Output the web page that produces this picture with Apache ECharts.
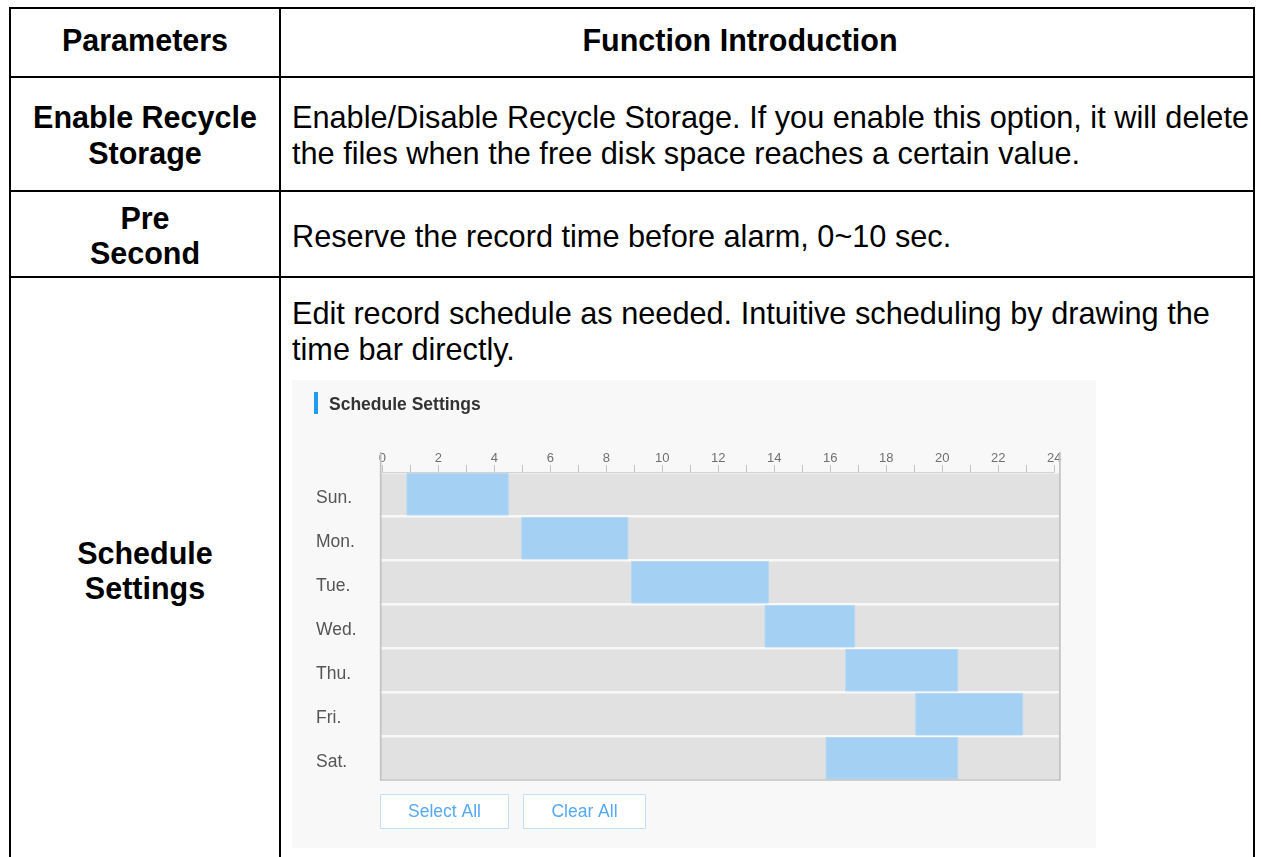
<!DOCTYPE html>
<html>
<head>
<meta charset="utf-8">
<script src="https://cdn.jsdelivr.net/npm/echarts@6/dist/echarts.min.js"></script>
<style>
  html, body { margin: 0; padding: 0; background: #fff; }
  #page { position: relative; width: 1261px; height: 857px; overflow: hidden; background: #fff; }
  .ln { position: absolute; background: #000; }
  .t { position: absolute; font-family: "Liberation Sans", Arial, sans-serif; font-size: 30.7px; line-height: 36px; color: #000; white-space: nowrap; }
  .b { font-weight: bold; font-size: 30.5px; }
  .c { text-align: center; }
  #chart { position: absolute; left: 292px; top: 380px; width: 804px; height: 468px; background: #f8f8f8; }
</style>
</head>
<body>
<div id="page">
  <!-- table rules -->
  <div class="ln" style="left:9px;top:7px;width:1246px;height:2px"></div>
  <div class="ln" style="left:9px;top:76px;width:1246px;height:2px"></div>
  <div class="ln" style="left:9px;top:190px;width:1246px;height:2px"></div>
  <div class="ln" style="left:9px;top:276px;width:1246px;height:2px"></div>
  <div class="ln" style="left:9px;top:7px;width:2px;height:860px"></div>
  <div class="ln" style="left:279px;top:7px;width:2px;height:860px"></div>
  <div class="ln" style="left:1253px;top:7px;width:2px;height:860px"></div>

  <!-- header -->
  <div class="t b c" style="left:11px;width:268px;top:22px">Parameters</div>
  <div class="t b c" style="left:440px;width:600px;top:22px">Function Introduction</div>

  <!-- left column -->
  <div class="t b c" style="left:11px;width:268px;top:99px">Enable Recycle</div>
  <div class="t b c" style="left:11px;width:268px;top:135px">Storage</div>
  <div class="t b c" style="left:11px;width:268px;top:200px">Pre</div>
  <div class="t b c" style="left:11px;width:268px;top:235px">Second</div>
  <div class="t b c" style="left:11px;width:268px;top:535px">Schedule</div>
  <div class="t b c" style="left:11px;width:268px;top:570px">Settings</div>

  <!-- right column -->
  <div class="t" style="left:292px;top:100px">Enable/Disable Recycle Storage. If you enable this option, it will delete</div>
  <div class="t" style="left:292px;top:136px">the files when the free disk space reaches a certain value.</div>
  <div class="t" style="left:292px;top:219px">Reserve the record time before alarm, 0~10 sec.</div>
  <div class="t" style="left:292px;top:296px">Edit record schedule as needed. Intuitive scheduling by drawing the</div>
  <div class="t" style="left:292px;top:332px">time bar directly.</div>

  <div id="chart"></div>
</div>
<script>
// ---- data ----
var days = ['Sun.', 'Mon.', 'Tue.', 'Wed.', 'Thu.', 'Fri.', 'Sat.'];
var startHours = [0.88, 4.98, 8.9, 13.67, 16.55, 19.05, 15.85];
var endHours   = [4.5, 8.77, 13.79, 16.87, 20.55, 22.87, 20.55];
var hourTicks  = [0, 2, 4, 6, 8, 10, 12, 14, 16, 18, 20, 22, 24];
var panelTitle = 'Schedule Settings';
var buttonLabels = ['Select All', 'Clear All'];

var chart = echarts.init(document.getElementById('chart'), null, { renderer: 'canvas' });

var rowData = days.map(function (d, i) { return [i]; });
var slotData = days.map(function (d, i) { return [i, startHours[i], endHours[i]]; });

var option = {
  animation: false,
  backgroundColor: '#f8f8f8',
  textStyle: { fontFamily: '"Liberation Sans", Arial, sans-serif' },
  grid: { left: 90.3, top: 92, width: 672, height: 308, containLabel: false },
  xAxis: {
    type: 'value', position: 'top', min: 0, max: 24, interval: 1,
    axisLine: { show: true, lineStyle: { color: '#d2d2d2', width: 1 } },
    axisTick: { show: true, length: 7, lineStyle: { color: '#c4c4c4', width: 1 } },
    axisLabel: {
      margin: 7, color: '#707070', fontSize: 13,
      formatter: function (v) { return hourTicks.indexOf(v) >= 0 ? String(v) : ''; }
    },
    splitLine: { show: false }
  },
  yAxis: {
    type: 'category', data: days, inverse: true,
    axisLine: { show: false }, axisTick: { show: false }, splitLine: { show: false },
    axisLabel: {
      align: 'left', margin: 66.3,
      formatter: function (v) { return '{d|' + v + '}'; },
      rich: { d: { color: '#555', fontSize: 17.5, padding: [9, 0, 0, 0] } }
    }
  },
  graphic: [
    { type: 'rect', left: 22, top: 12, shape: { width: 4, height: 22 }, style: { fill: '#1f9bf0' } },
    { type: 'text', left: 37, top: 16, style: { text: panelTitle, fill: '#333', font: 'bold 17.5px "Liberation Sans", Arial, sans-serif' } },
    { type: 'group', left: 88, top: 414, children: [
      { type: 'rect', shape: { x: 0.5, y: 0.5, width: 128, height: 34 }, style: { fill: '#fff', stroke: '#c3dff8', lineWidth: 1 } },
      { type: 'text', style: { x: 64.5, y: 18.5, text: buttonLabels[0], align: 'center', verticalAlign: 'middle', fill: '#55a9f2', font: '17.5px "Liberation Sans", Arial, sans-serif' } }
    ]},
    { type: 'group', left: 231, top: 414, children: [
      { type: 'rect', shape: { x: 0.5, y: 0.5, width: 122, height: 34 }, style: { fill: '#fff', stroke: '#c3dff8', lineWidth: 1 } },
      { type: 'text', style: { x: 61.5, y: 18.5, text: buttonLabels[1], align: 'center', verticalAlign: 'middle', fill: '#55a9f2', font: '17.5px "Liberation Sans", Arial, sans-serif' } }
    ]}
  ],
  series: [
    {
      name: 'rows', type: 'custom', z: 1, silent: true, clip: false,
      data: rowData, encode: { y: 0 },
      renderItem: function (params, api) {
        var cs = params.coordSys;
        var idx = api.value(0);
        var yc = api.coord([0, idx])[1];
        var bh = api.size([0, 1])[1];
        return {
          type: 'rect',
          shape: { x: cs.x - 1.3, y: yc - bh / 2 + 1.5, width: cs.width + 6.3, height: bh - 2.5 },
          style: { fill: '#e1e1e1' }
        };
      }
    },
    {
      name: 'schedule', type: 'custom', z: 2, silent: true,
      data: slotData, encode: { x: [1, 2], y: 0 },
      renderItem: function (params, api) {
        var idx = api.value(0);
        var p0 = api.coord([api.value(1), idx]);
        var p1 = api.coord([api.value(2), idx]);
        var bh = api.size([0, 1])[1];
        return {
          type: 'rect',
          shape: { x: p0[0], y: p0[1] - bh / 2 + 1.5, width: p1[0] - p0[0], height: bh - 2.5 },
          style: { fill: '#a3d0f3', stroke: '#b3d9f5', lineWidth: 1 }
        };
      }
    },
    {
      name: 'frame', type: 'custom', z: 3, silent: true, clip: false,
      data: [[0]], encode: { y: 0 },
      renderItem: function (params, api) {
        var cs = params.coordSys;
        var l = cs.x - 1.6, r = cs.x + cs.width + 5.6, b = cs.y + cs.height;
        var st = { stroke: '#c2c2c2', lineWidth: 1.7 };
        return {
          type: 'group',
          children: [
            { type: 'line', shape: { x1: l, y1: cs.y - 20, x2: l, y2: b + 0.8 }, style: st },
            { type: 'line', shape: { x1: r, y1: cs.y - 20, x2: r, y2: b + 0.8 }, style: st },
            { type: 'line', shape: { x1: l, y1: b, x2: r, y2: b }, style: st }
          ]
        };
      }
    }
  ]
};
chart.setOption(option);
</script>
</body>
</html>
